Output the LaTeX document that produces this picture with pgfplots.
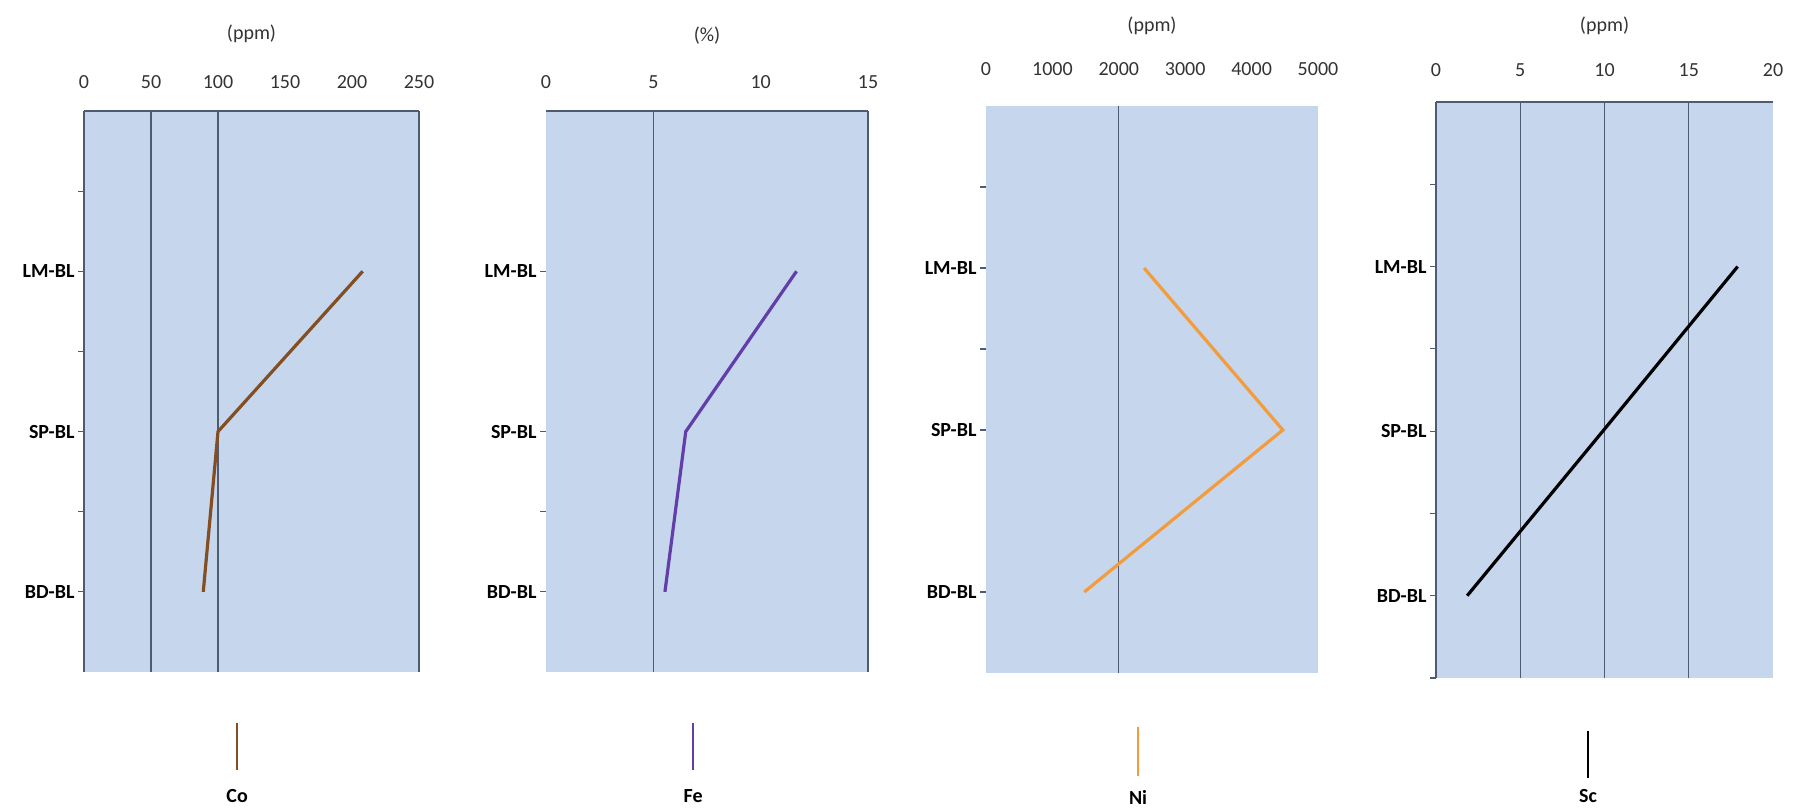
\documentclass[border=0pt]{standalone}
\usepackage{pgfplots}
\pgfplotsset{compat=1.18}
\usepackage{fontspec}
\setmainfont{Carlito}
\definecolor{bgblue}{RGB}{198,215,237}
\definecolor{gridc}{RGB}{78,92,114}
\definecolor{coC}{RGB}{130,78,34}
\definecolor{feC}{RGB}{98,62,170}
\definecolor{niC}{RGB}{242,156,62}
\pgfplotsset{
 panel/.style={
  scale only axis, anchor=north west,
  ymin=0.5, ymax=4,
  ytick={1,2,3}, yticklabels={BD-BL,SP-BL,LM-BL},
  yticklabel style={font=\fontsize{20}{24}\selectfont\bfseries, text=black},
  xticklabel style={font=\fontsize{20}{24}\selectfont, anchor=center, text=black!80},
  /pgf/number format/assume math mode=true,
  /pgf/number format/1000 sep={},
  scaled x ticks=false,
  axis background/.style={fill=bgblue},
  axis x line*=top, axis y line*=left,
  axis line style={draw=gridc, line width=1.2pt},
  tick align=outside, major tick length=6pt,
  tick style={draw=gridc, line width=1.2pt},
  xtick style={draw=none},
  extra x tick labels={}, extra y tick labels={},
  extra x tick style={xmajorgrids=true, major grid style={draw=gridc, line width=1.2pt}},
  title style={font=\fontsize{20}{24}\selectfont, anchor=center, at={(0.5,1)}, text=black!80},
  legend style={draw=none, fill=none, inner sep=0pt, outer sep=0pt},
  every axis plot/.append style={line width=3.2pt, mark=none},
 }}
\begin{document}
\begin{tikzpicture}
% Co
\begin{axis}[panel, at={(84pt,696pt)}, width=335pt, height=561pt,
  xmin=0, xmax=250, xtick={0,50,...,250},
  extra x ticks={50,100,250},
  extra y ticks={1.5,2.5,3.5},
  xticklabel style={yshift=23pt},
  title={(ppm)}, title style={yshift=71pt},
  legend style={at={(0.463,-0.0856)}, anchor=north},
  legend image code/.code={\draw[#1, line width=2pt] (0pt,0pt) -- (0pt,-47pt);
     \node[text=black, font=\fontsize{20}{24}\selectfont\bfseries] at (0pt,-74pt) {Co};}]
\addplot[coC] coordinates {(208,3) (100,2) (89,1)};
\addlegendentry{}
\end{axis}
% Fe
\begin{axis}[panel, at={(546pt,696pt)}, width=322pt, height=561pt,
  xmin=0, xmax=15, xtick={0,5,10,15},
  extra x ticks={5,15},
  y axis line style={draw=none},
  extra y ticks={1.5},
  xticklabel style={yshift=23pt},
  title={(\%)}, title style={yshift=69pt},
  legend style={at={(0.463,-0.0856)}, anchor=north},
  legend image code/.code={\draw[#1, line width=2pt] (0pt,0pt) -- (0pt,-47pt);
     \node[text=black, font=\fontsize{20}{24}\selectfont\bfseries] at (0pt,-74pt) {Fe};}]
\addplot[feC] coordinates {(11.67,3) (6.51,2) (5.54,1)};
\addlegendentry{}
\end{axis}
% Ni
\begin{axis}[panel, at={(986pt,701pt)}, width=332pt, height=567pt,
  xmin=0, xmax=5000, xtick={0,1000,...,5000},
  extra x ticks={2000},
  x axis line style={draw=none}, y axis line style={draw=none},
  extra y ticks={2.5,3.5},
  xticklabel style={yshift=31pt},
  title={(ppm)}, title style={yshift=74pt},
  legend style={at={(0.464,-0.090)}, anchor=north},
  legend image code/.code={\draw[#1, line width=2pt] (0pt,0pt) -- (0pt,-49pt);
     \node[text=black, font=\fontsize{20}{24}\selectfont\bfseries] at (0pt,-71pt) {Ni};}]
\addplot[niC] coordinates {(2380,3) (4470,2) (1480,1)};
\addlegendentry{}
\end{axis}
% Sc
\begin{axis}[panel, at={(1436pt,705pt)}, width=337pt, height=576pt,
  xmin=0, xmax=20, xtick={0,5,...,20},
  extra x ticks={5,10,15},
  extra y ticks={0.5,1.5,2.5,3.5},
  xticklabel style={yshift=26pt},
  title={(ppm)}, title style={yshift=70pt},
  legend style={at={(0.457,-0.0868)}, anchor=north},
  legend image code/.code={\draw[#1, line width=2pt] (0pt,0pt) -- (0pt,-47pt);
     \node[text=black, font=\fontsize{20}{24}\selectfont\bfseries] at (0pt,-66pt) {Sc};}]
\addplot[black] coordinates {(17.9,3) (9.9,2) (1.85,1)};
\addlegendentry{}
\end{axis}
\pgfresetboundingbox
\path[use as bounding box] (0,0) rectangle (1798pt,807pt);
\end{tikzpicture}
\end{document}
